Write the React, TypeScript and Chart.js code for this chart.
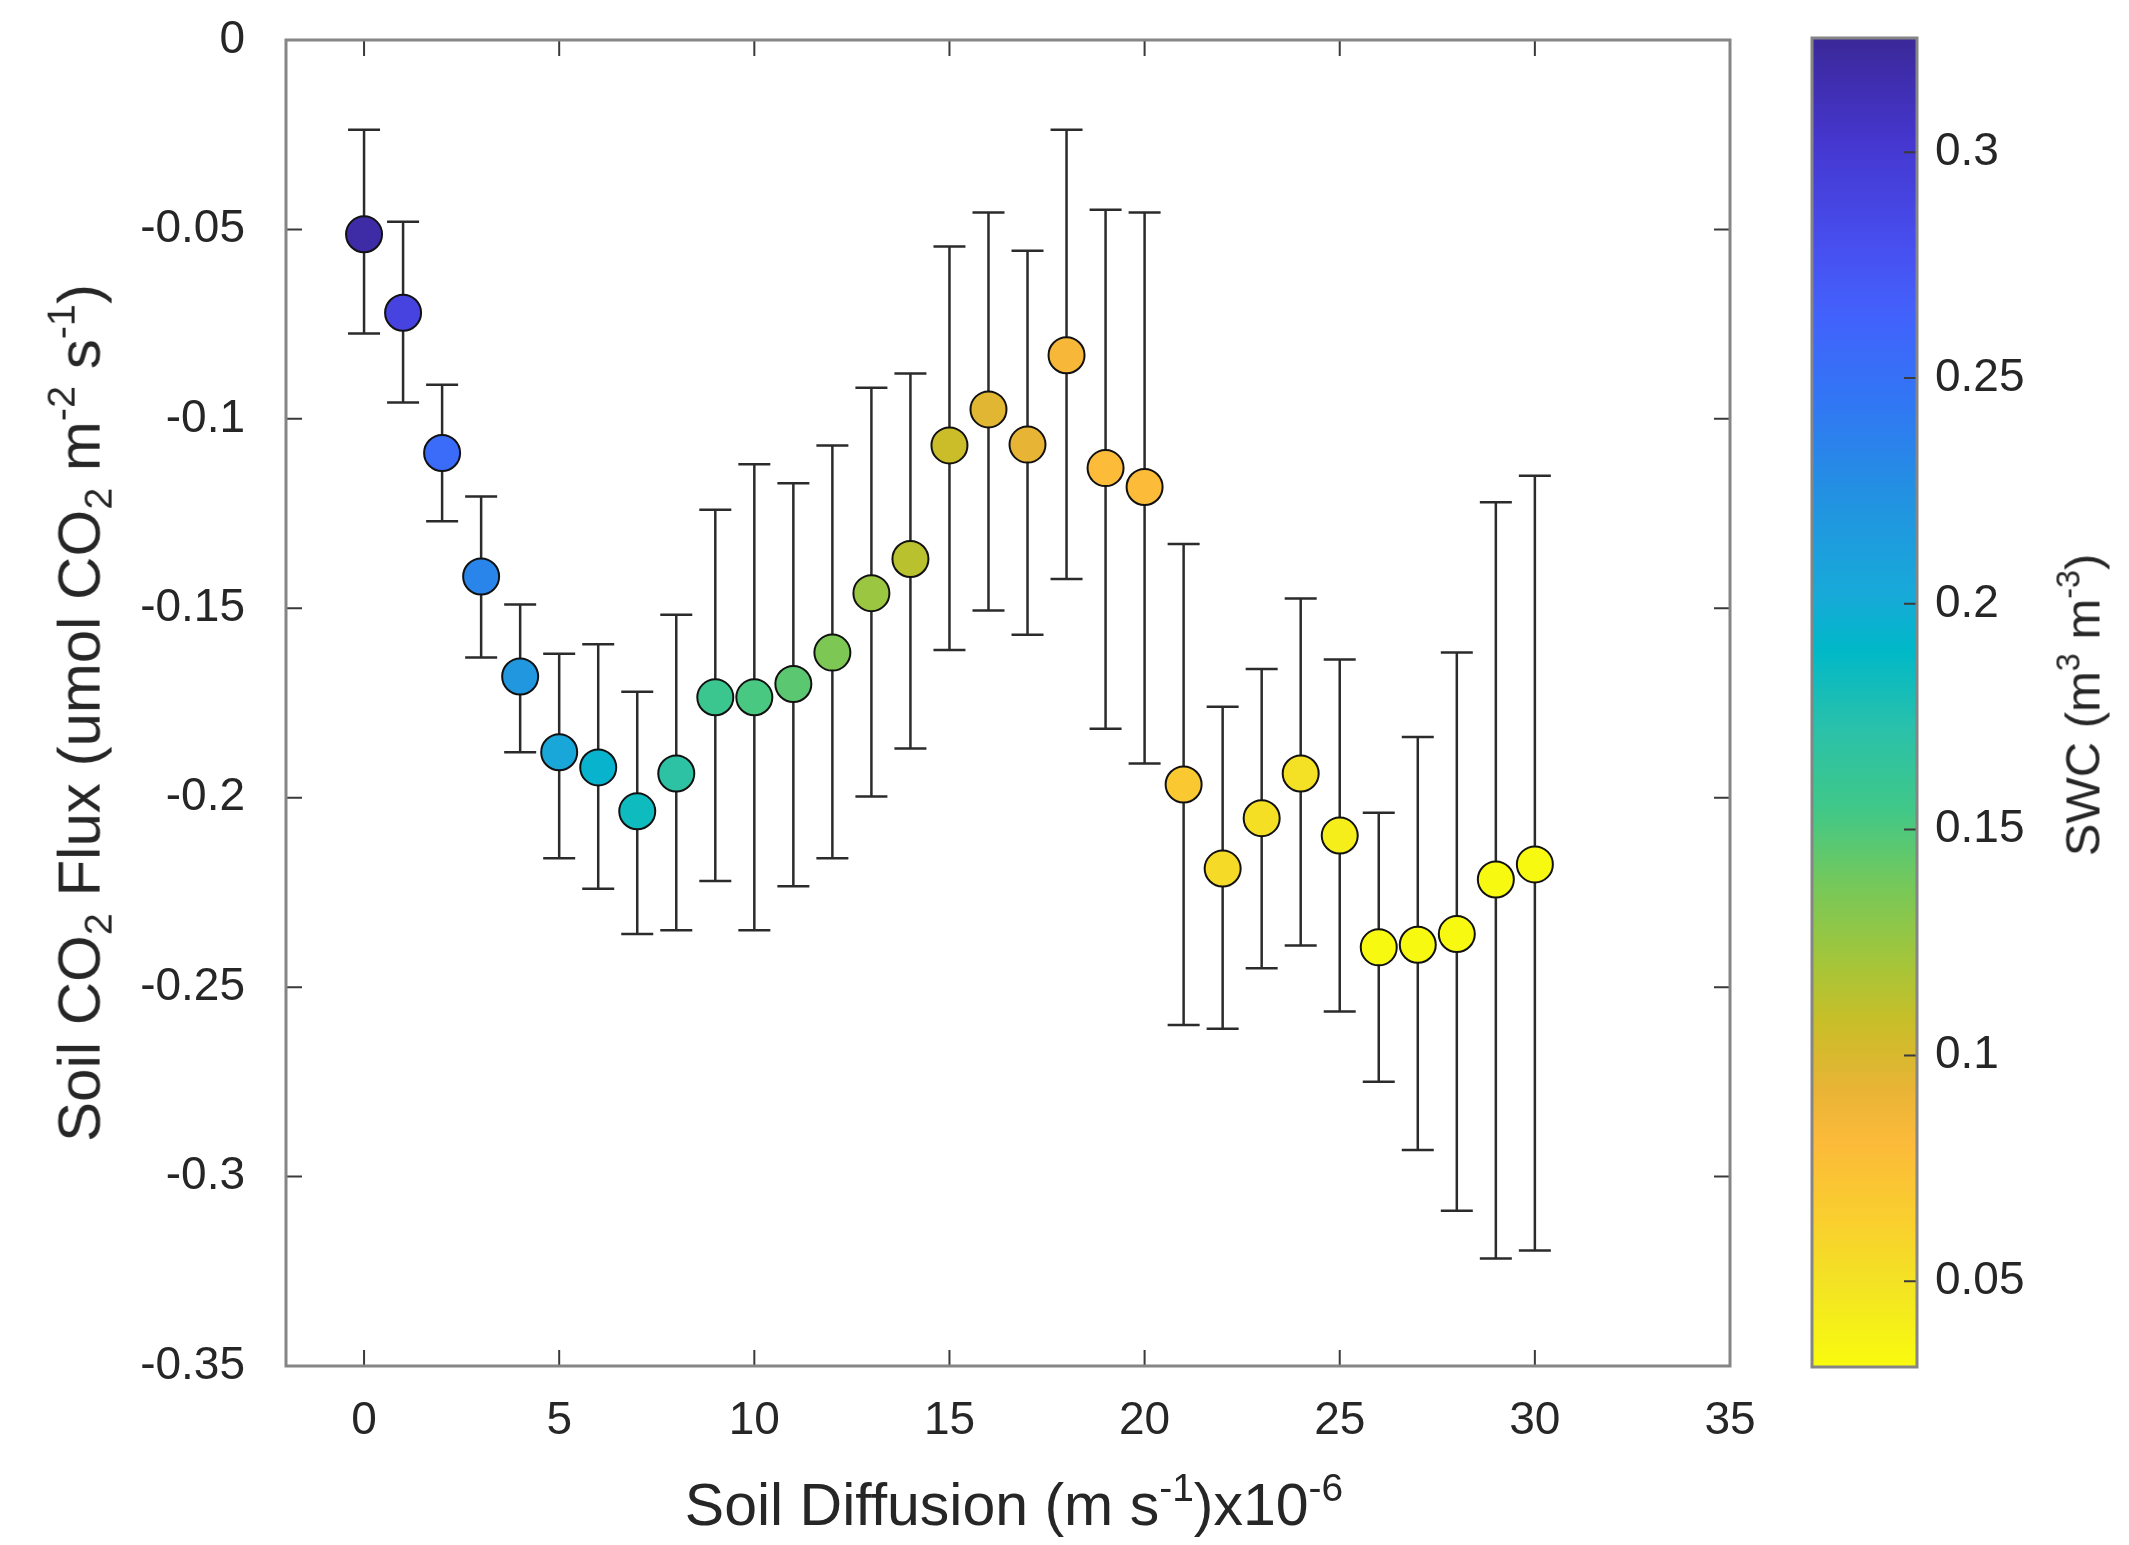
import { useEffect, useRef } from 'react';
import { Chart, registerables } from 'chart.js';

Chart.register(...registerables);

// soil diffusion bins (x10^-6 m s-1)
const diffusion = [0, 1, 2, 3, 4, 5, 6, 7, 8, 9, 10, 11, 12, 13, 14, 15, 16, 17, 18, 19, 20, 21, 22, 23, 24, 25, 26, 27, 28, 29, 30];
// mean soil CO2 flux per bin
const flux = [-0.0513, -0.072, -0.109, -0.1416, -0.168, -0.188, -0.192, -0.2036, -0.1936, -0.1735, -0.1735, -0.170, -0.1617, -0.146, -0.137, -0.107, -0.0975, -0.1068, -0.0832, -0.113, -0.118, -0.1965, -0.2187, -0.2054, -0.1936, -0.210, -0.2395, -0.2388, -0.236, -0.2216, -0.2176];
// error bar ends
const fluxHigh = [-0.0237, -0.048, -0.091, -0.1205, -0.149, -0.162, -0.1595, -0.172, -0.1517, -0.124, -0.112, -0.117, -0.107, -0.0918, -0.088, -0.0545, -0.0455, -0.0556, -0.0237, -0.0448, -0.0455, -0.133, -0.176, -0.166, -0.1474, -0.1635, -0.204, -0.184, -0.1617, -0.122, -0.115];
const fluxLow = [-0.0775, -0.0957, -0.127, -0.163, -0.188, -0.216, -0.224, -0.236, -0.235, -0.222, -0.235, -0.2234, -0.216, -0.1997, -0.187, -0.161, -0.1506, -0.157, -0.1423, -0.1818, -0.191, -0.26, -0.261, -0.245, -0.239, -0.2564, -0.275, -0.293, -0.309, -0.3216, -0.3195];
// soil water content (colour)
const swc = [0.319, 0.290, 0.255, 0.234, 0.219, 0.205, 0.194, 0.184, 0.169, 0.159, 0.152, 0.146, 0.135, 0.124, 0.113, 0.106, 0.096, 0.093, 0.084, 0.080, 0.080, 0.068, 0.056, 0.052, 0.051, 0.041, 0.0325, 0.0325, 0.0325, 0.0325, 0.0325];

const xTicks = [0, 5, 10, 15, 20, 25, 30, 35];
const yTicks = [0, -0.05, -0.1, -0.15, -0.2, -0.25, -0.3, -0.35];
const swcTicks = [0.05, 0.1, 0.15, 0.2, 0.25, 0.3];
const swcRange = [0.031, 0.3253];

// parula-like colormap, 0 = bottom of colorbar, 1 = top
const cmap: [number, string][] = [
  [0.0, '#f9fb0e'],
  [0.06, '#f3e423'],
  [0.11, '#f9cf2e'],
  [0.17, '#fcba3a'],
  [0.21, '#e8b435'],
  [0.26, '#c8be28'],
  [0.30, '#a8c538'],
  [0.36, '#78c858'],
  [0.42, '#40c888'],
  [0.48, '#2ac1aa'],
  [0.54, '#00b8c8'],
  [0.58, '#17aad8'],
  [0.66, '#2390e2'],
  [0.73, '#3275f5'],
  [0.79, '#4262fc'],
  [0.84, '#4750f0'],
  [0.92, '#4537d0'],
  [1.0, '#3b2898'],
];

const FONT = '"Liberation Sans", Arial, Helvetica, sans-serif';
const TEXT = '#262626';

function hexToRgb(h: string) {
  const n = parseInt(h.slice(1), 16);
  return [(n >> 16) & 255, (n >> 8) & 255, n & 255];
}

function colorFor(v: number) {
  const t = Math.min(1, Math.max(0, (v - swcRange[0]) / (swcRange[1] - swcRange[0])));
  for (let i = 1; i < cmap.length; i++) {
    if (t <= cmap[i][0]) {
      const [t0, c0] = cmap[i - 1];
      const [t1, c1] = cmap[i];
      const f = (t - t0) / (t1 - t0);
      const a = hexToRgb(c0);
      const b = hexToRgb(c1);
      const c = a.map((x, k) => Math.round(x + (b[k] - x) * f));
      return `rgb(${c[0]},${c[1]},${c[2]})`;
    }
  }
  return cmap[cmap.length - 1][1];
}

const fmt = (v: number) => {
  const s = Number(v.toFixed(2)).toString();
  return s === '-0' ? '0' : s;
};

const TICK_LEN = 16;

const mainAxes = {
  id: 'mainAxes',
  beforeDatasetsDraw(chart: any) {
    const { ctx, scales: { x, y } } = chart;
    const cap = 16;
    ctx.save();
    ctx.strokeStyle = '#2b2b2b';
    ctx.lineWidth = 2.5;
    diffusion.forEach((d, i) => {
      const px = x.getPixelForValue(d);
      const top = y.getPixelForValue(fluxHigh[i]);
      const bot = y.getPixelForValue(fluxLow[i]);
      ctx.beginPath();
      ctx.moveTo(px, top);
      ctx.lineTo(px, bot);
      ctx.moveTo(px - cap, top);
      ctx.lineTo(px + cap, top);
      ctx.moveTo(px - cap, bot);
      ctx.lineTo(px + cap, bot);
      ctx.stroke();
    });
    ctx.restore();
  },
  afterDraw(chart: any) {
    const { ctx, chartArea: { left, right, top, bottom }, scales: { x, y } } = chart;
    ctx.save();
    ctx.strokeStyle = '#3a3a3a';
    ctx.lineWidth = 2;
    ctx.beginPath();
    x.ticks.forEach((t: any) => {
      const px = x.getPixelForValue(t.value);
      ctx.moveTo(px, bottom);
      ctx.lineTo(px, bottom - TICK_LEN);
      ctx.moveTo(px, top);
      ctx.lineTo(px, top + TICK_LEN);
    });
    y.ticks.forEach((t: any) => {
      const py = y.getPixelForValue(t.value);
      ctx.moveTo(left, py);
      ctx.lineTo(left + TICK_LEN, py);
      ctx.moveTo(right, py);
      ctx.lineTo(right - TICK_LEN, py);
    });
    ctx.stroke();
    ctx.strokeStyle = '#858585';
    ctx.lineWidth = 3;
    ctx.strokeRect(left, top, right - left, bottom - top);
    ctx.restore();
  },
};

const barAxes = {
  id: 'barAxes',
  afterDraw(chart: any) {
    const { ctx, chartArea: { left, right, top, bottom }, scales: { y } } = chart;
    ctx.save();
    ctx.strokeStyle = '#3a3a3a';
    ctx.lineWidth = 2;
    ctx.beginPath();
    y.ticks.forEach((t: any) => {
      const py = y.getPixelForValue(t.value);
      ctx.moveTo(right, py);
      ctx.lineTo(right - 13, py);
    });
    ctx.stroke();
    ctx.strokeStyle = '#858585';
    ctx.lineWidth = 3;
    ctx.strokeRect(left, top, right - left, bottom - top);
    ctx.restore();
  },
};

function Sub({ children }: { children: any }) {
  return <span style={{ fontSize: '0.66em', verticalAlign: '-0.32em' }}>{children}</span>;
}
function Sup({ children }: { children: any }) {
  return <span style={{ fontSize: '0.66em', verticalAlign: '0.62em' }}>{children}</span>;
}

export default function App() {
  const mainRef = useRef<HTMLCanvasElement>(null);
  const barRef = useRef<HTMLCanvasElement>(null);

  useEffect(() => {
    if (!mainRef.current || !barRef.current) return;

    const main = new Chart(mainRef.current, {
      type: 'scatter',
      data: {
        datasets: [{
          data: diffusion.map((d, i) => ({ x: d, y: flux[i] })),
          pointRadius: 18,
          pointHoverRadius: 18,
          pointBackgroundColor: swc.map(colorFor),
          pointBorderColor: '#111111',
          pointBorderWidth: 2,
          showLine: false,
        }],
      },
      options: {
        animation: false,
        responsive: true,
        maintainAspectRatio: false,
        layout: { padding: { left: 0, top: 40, right: 60, bottom: 0 } },
        plugins: { legend: { display: false }, tooltip: { enabled: false } },
        scales: {
          x: {
            type: 'linear',
            min: -2,
            max: 35,
            afterBuildTicks: (s: any) => { s.ticks = xTicks.map((v) => ({ value: v })); },
            afterFit: (s: any) => { s.height = 179; },
            grid: { display: false, drawTicks: false },
            border: { display: false },
            ticks: {
              color: TEXT,
              padding: 28,
              maxRotation: 0,
              autoSkip: false,
              font: { size: 46, family: FONT },
              callback: (v: any) => fmt(Number(v)),
            },
          },
          y: {
            type: 'linear',
            min: -0.35,
            max: 0,
            afterBuildTicks: (s: any) => { s.ticks = yTicks.map((v) => ({ value: v })); },
            afterFit: (s: any) => {
              s.width = 286;
              s.paddingTop = 0;
              s.paddingBottom = 0;
            },
            grid: { display: false, drawTicks: false },
            border: { display: false },
            ticks: {
              color: TEXT,
              padding: 41,
              autoSkip: false,
              font: { size: 46, family: FONT },
              callback: (v: any) => fmt(Number(v)),
            },
          },
        },
      },
      plugins: [mainAxes],
    });

    const bar = new Chart(barRef.current, {
      type: 'bar',
      data: {
        labels: ['SWC'],
        datasets: [{
          data: [swcRange as any],
          barPercentage: 1,
          categoryPercentage: 1,
          borderWidth: 0,
          backgroundColor: (c: any) => {
            const area = c.chart.chartArea;
            if (!area) return 'transparent';
            const g = c.chart.ctx.createLinearGradient(0, area.bottom, 0, area.top);
            cmap.forEach(([t, col]) => g.addColorStop(t, col));
            return g;
          },
        }],
      },
      options: {
        animation: false,
        responsive: true,
        maintainAspectRatio: false,
        layout: { padding: { left: 32, top: 38, right: 0, bottom: 178 } },
        plugins: { legend: { display: false }, tooltip: { enabled: false } },
        scales: {
          x: { display: false },
          y: {
            position: 'right',
            min: swcRange[0],
            max: swcRange[1],
            afterBuildTicks: (s: any) => { s.ticks = swcTicks.map((v) => ({ value: v })); },
            afterFit: (s: any) => {
              s.width = 212;
              s.paddingTop = 0;
              s.paddingBottom = 0;
            },
            grid: { display: false, drawTicks: false },
            border: { display: false },
            ticks: {
              color: TEXT,
              padding: 18,
              autoSkip: false,
              font: { size: 46, family: FONT },
              callback: (v: any) => fmt(Number(v)),
            },
          },
        },
      },
      plugins: [barAxes],
    });

    return () => {
      main.destroy();
      bar.destroy();
    };
  }, []);

  const label = { position: 'absolute' as const, whiteSpace: 'nowrap' as const, color: TEXT, fontFamily: FONT, lineHeight: 1 };

  return (
    <div style={{ position: 'fixed', left: 0, top: 0, width: 2129, height: 1545, background: '#ffffff', overflow: 'hidden' }}>
      <div style={{ position: 'absolute', left: 0, top: 0, width: 1790, height: 1545 }}>
        <canvas ref={mainRef} />
      </div>
      <div style={{ position: 'absolute', left: 1780, top: 0, width: 349, height: 1545 }}>
        <canvas ref={barRef} />
      </div>
      <div style={{ ...label, left: 1014, top: 1502, fontSize: 59, transform: 'translate(-50%, -50%)' }}>
        Soil Diffusion (m s<Sup>-1</Sup>)x10<Sup>-6</Sup>
      </div>
      <div style={{ ...label, left: 80, top: 713, fontSize: 60, transform: 'translate(-50%, -50%) rotate(-90deg)' }}>
        Soil CO<Sub>2</Sub> Flux (umol CO<Sub>2</Sub> m<Sup>-2</Sup> s<Sup>-1</Sup>)
      </div>
      <div style={{ ...label, left: 2080, top: 705, fontSize: 49, transform: 'translate(-50%, -50%) rotate(-90deg)' }}>
        SWC (m<Sup>3</Sup> m<Sup>-3</Sup>)
      </div>
    </div>
  );
}
